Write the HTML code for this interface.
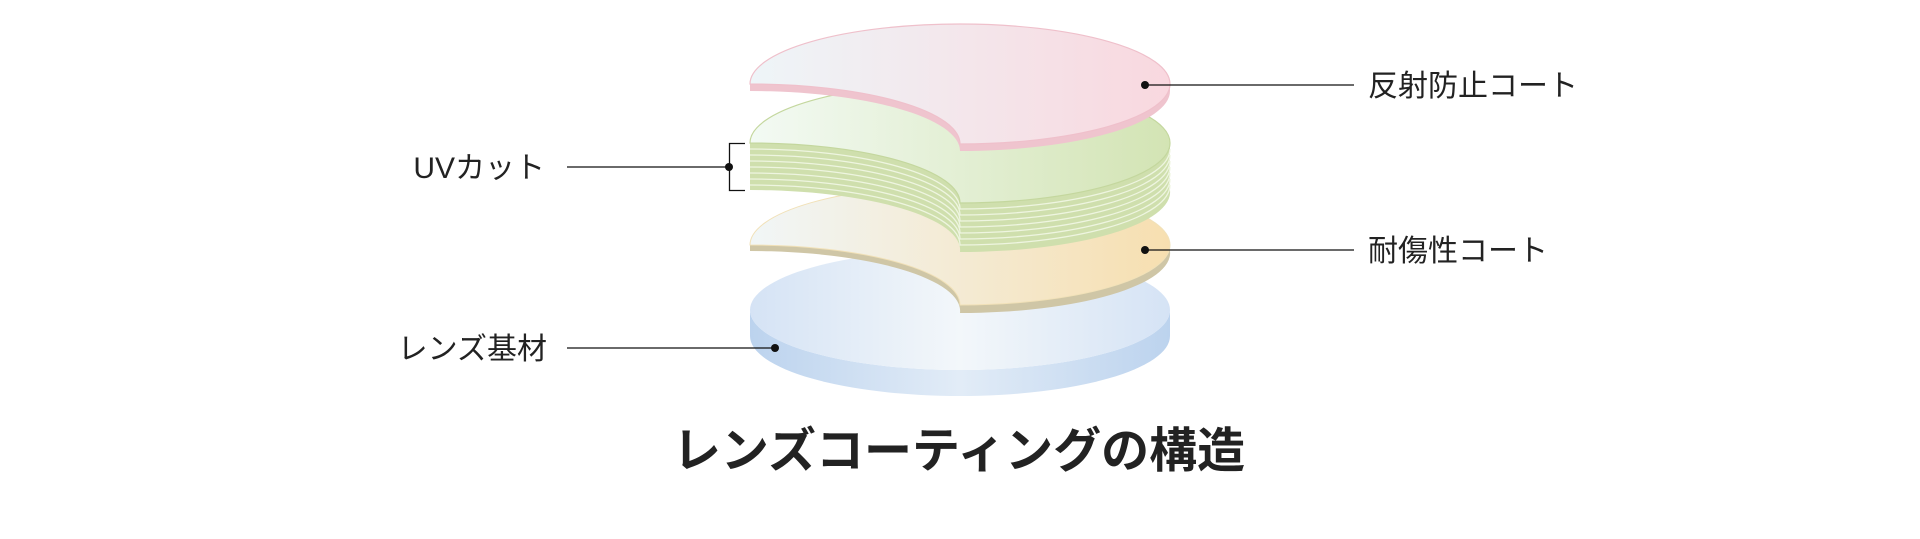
<!DOCTYPE html>
<html><head><meta charset="utf-8"><style>
html,body{margin:0;padding:0;background:#fff;}
body{width:1920px;height:539px;overflow:hidden;}
svg{display:block}
text{font-family:"Liberation Sans","Noto Sans CJK JP",sans-serif;fill:#222;}
</style></head><body>
<svg width="1920" height="539" viewBox="0 0 1920 539" xmlns="http://www.w3.org/2000/svg">
<defs>
<linearGradient id="pinkT" x1="0" x2="1"><stop offset="0" stop-color="#eef5f8"/><stop offset="1" stop-color="#f9d8df"/></linearGradient>
<linearGradient id="greenT" x1="0" x2="1"><stop offset="0" stop-color="#f3faf4"/><stop offset="1" stop-color="#d3e4b4"/></linearGradient>
<linearGradient id="yelT" x1="0" x2="1"><stop offset="0" stop-color="#f1f6f7"/><stop offset="1" stop-color="#f7dfb0"/></linearGradient>
<linearGradient id="blueT" x1="0" x2="1"><stop offset="0" stop-color="#d5e3f5"/><stop offset="0.5" stop-color="#f3f7fa"/><stop offset="1" stop-color="#d5e3f5"/></linearGradient>
<linearGradient id="blueS" x1="0" x2="1"><stop offset="0" stop-color="#bcd3ee"/><stop offset="0.5" stop-color="#e2ecf7"/><stop offset="1" stop-color="#bcd3ee"/></linearGradient>
</defs>

<path d="M750,310 A210,60 0 0 0 1170,310 L1170,336 A210,60 0 0 1 750,336 Z" fill="url(#blueS)"/>
<ellipse cx="960" cy="310" rx="210" ry="60" fill="url(#blueT)"/>

<path d="M750,245 A210,60 0 0 1 960,305 A210,60 0 0 0 1170,245 L1170,251 A210,60 0 0 1 960,313 A210,60 0 0 0 750,251 Z" fill="#cfc6a6"/>
<path d="M750,245 A210,60 0 0 1 1170,245 A210,60 0 0 1 960,305 A210,60 0 0 0 750,245 Z" fill="url(#yelT)" stroke="#f1e1b8" stroke-width="1"/>

<path d="M750,143 A210,60 0 0 1 960,203 A210,60 0 0 0 1170,143 L1170,190 A210,60 0 0 1 960,252 A210,60 0 0 0 750,190 Z" fill="#cfdfad"/>
<g fill="none" stroke="#eef5e0" stroke-width="1.3">
<path d="M750,149 A210,60 0 0 1 960,209 A210,60 0 0 0 1170,149"/>
<path d="M750,155 A210,60 0 0 1 960,215 A210,60 0 0 0 1170,155"/>
<path d="M750,161 A210,60 0 0 1 960,221 A210,60 0 0 0 1170,161"/>
<path d="M750,167 A210,60 0 0 1 960,227 A210,60 0 0 0 1170,167"/>
<path d="M750,173 A210,60 0 0 1 960,233 A210,60 0 0 0 1170,173"/>
<path d="M750,179 A210,60 0 0 1 960,239 A210,60 0 0 0 1170,179"/>
<path d="M750,185 A210,60 0 0 1 960,245 A210,60 0 0 0 1170,185"/>
</g>
<path d="M750,143 A210,60 0 0 1 1170,143 A210,60 0 0 1 960,203 A210,60 0 0 0 750,143 Z" fill="url(#greenT)" stroke="#c4d79e" stroke-width="1.2"/>

<path d="M750,84 A210,60 0 0 1 960,144 A210,60 0 0 0 1170,84 L1170,91 A210,60 0 0 1 960,151 A210,60 0 0 0 750,91 Z" fill="#efc4ce"/>
<path d="M750,84 A210,60 0 0 1 1170,84 A210,60 0 0 1 960,144 A210,60 0 0 0 750,84 Z" fill="url(#pinkT)" stroke="#efc0cb" stroke-width="1.2"/>

<g stroke="#111" stroke-width="1.3" fill="none">
<line x1="1145" y1="85" x2="1354" y2="85"/>
<line x1="1145" y1="250" x2="1354" y2="250"/>
<line x1="567" y1="167" x2="729" y2="167"/>
<polyline points="745,143.5 729.5,143.5 729.5,190.5 745,190.5"/>
<line x1="567" y1="348" x2="775" y2="348"/>
</g>
<g fill="#111">
<circle cx="1145" cy="85" r="4"/>
<circle cx="1145" cy="250" r="4"/>
<circle cx="729" cy="167" r="4"/>
<circle cx="775" cy="348" r="4"/>
</g>

<text x="1368" y="96" font-size="30">反射防止コート</text>
<text x="1368" y="261" font-size="30">耐傷性コート</text>
<text x="545" y="178" font-size="30" text-anchor="end">UVカット</text>
<text x="547" y="359" font-size="30" text-anchor="end">レンズ基材</text>
<text x="959" y="467" font-size="48" font-weight="bold" text-anchor="middle">レンズコーティングの構造</text>
</svg>
</body></html>
